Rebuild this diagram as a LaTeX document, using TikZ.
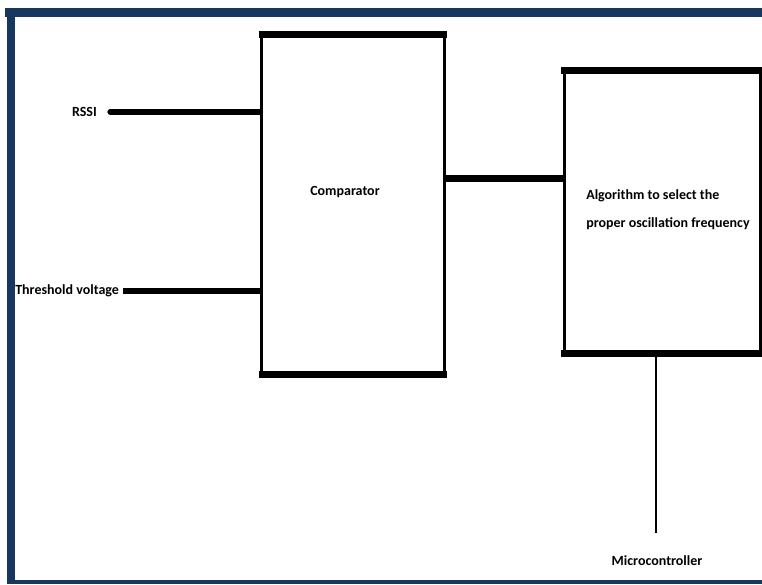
\documentclass[tikz,border=0pt]{standalone}
\usepackage{fontspec}
\setmainfont{Carlito}
\usetikzlibrary{positioning}
\definecolor{framblue}{HTML}{17375E}

\tikzset{
  lbl/.style={inner sep=0pt, font=\fontsize{10.5}{12}\selectfont\bfseries},
  blockbox/.style={draw, line width=2.25pt, inner sep=0pt},
  bar/.style={line width=5.25pt},
  wire/.style={line width=4.5pt},
}

\begin{document}
\begin{tikzpicture}[x=0.75pt,y=-0.75pt]
        \useasboundingbox (0,0) rectangle (762,584);
        \fill[white] (0,0) rectangle (762,584);
        % frame
        \fill[framblue] (5,8) rectangle (762,17);
        \fill[framblue] (7,8) rectangle (15,584);
        \fill[framblue] (7,580) rectangle (762,584);
        % blocks
        \node[blockbox, minimum width=137.25pt, minimum height=252pt] (cmp) at (353,204.5) {};
        \node[blockbox, minimum width=147pt, minimum height=209.25pt] (algo) at (662,212) {};
        \draw[bar, shorten <=-1.1pt, shorten >=-1.1pt] (cmp.north west) -- (cmp.north east);
        \draw[bar, shorten <=-1.1pt, shorten >=-1.1pt] (cmp.south west) -- (cmp.south east);
        \draw[bar, shorten <=-1.1pt, shorten >=-1.1pt] (algo.north west) -- (algo.north east);
        \draw[bar, shorten <=-1.1pt, shorten >=-1.1pt] (algo.south west) -- (algo.south east);
        % texts
        \node[lbl] (cmptxt) at (345,192) {Comparator};
        \node[lbl, anchor=west, align=left] (algotxt) at (586,210) {Algorithm to select the\\[9pt]proper oscillation frequency};
        \node[lbl, anchor=east] (rssi) at (97,112) {RSSI};
        \node[lbl, anchor=west] (thr) at (15,291) {Threshold voltage};
        \node[lbl] (mcu) at (657,561) {Microcontroller};
        \coordinate (mcuend) at (656,533);
        % connectors
        \draw[wire, line cap=round, shorten <=10pt] (rssi.east) -- (rssi.east -| cmp.west);
        \draw[wire, shorten <=3pt] (thr.east) -- (thr.east -| cmp.west);
        \draw[bar] (cmp.east |- 0,179) -- (algo.west |- 0,179);
        \draw[line width=1.9pt] (algo.south -| mcuend) -- (mcuend);
\end{tikzpicture}
\end{document}
